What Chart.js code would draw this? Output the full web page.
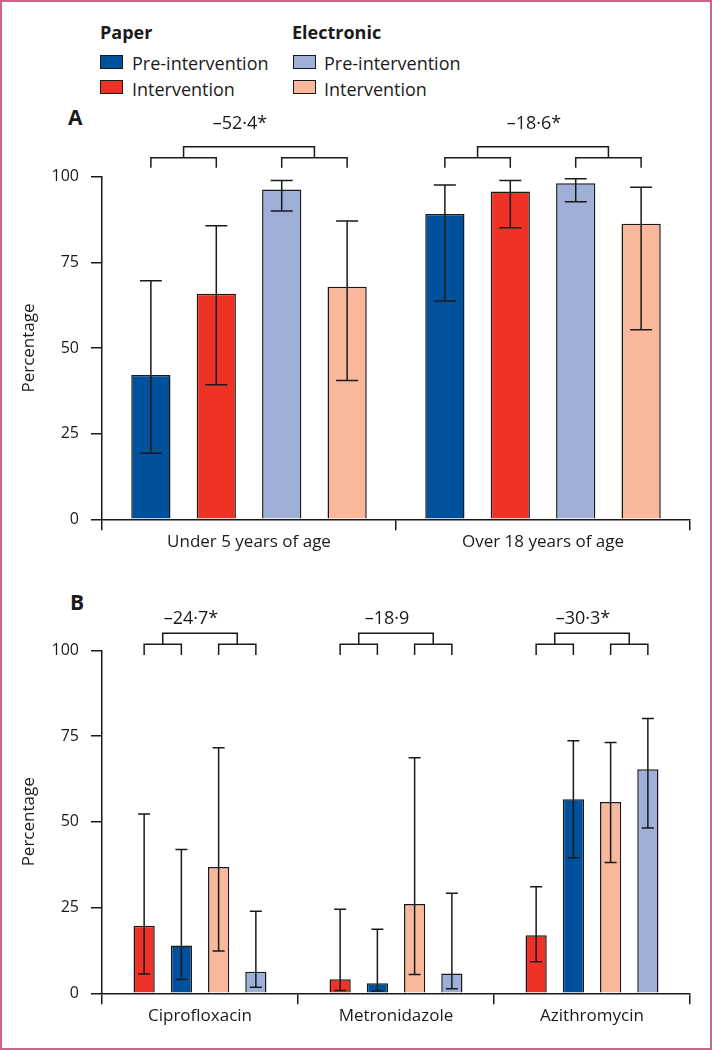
<!DOCTYPE html>
<html>
<head>
<meta charset="utf-8">
<script src="https://cdn.jsdelivr.net/npm/chart.js@4.4.1/dist/chart.umd.min.js"></script>
<style>
  html, body { margin: 0; padding: 0; background: #fff; }
  #frame {
    position: relative; width: 712px; height: 1050px; box-sizing: border-box;
    border: 2px solid #d0628c; overflow: hidden;
    font-family: "Open Sans", sans-serif; color: #1a1a1a;
  }
  canvas { position: absolute; left: -2px; }
  .head { position: absolute; font-weight: bold; font-size: 18px; line-height: 20px; }
  .item { position: absolute; font-size: 18px; line-height: 20px; }
  .sw { position: absolute; width: 21px; height: 12px; border: 1.5px solid #1a1a1a; }
  .panel { position: absolute; font-weight: bold; font-size: 21px; line-height: 24px; }
</style>
</head>
<body>
<div id="frame">
  <div class="head" style="left:98px; top:20px;">Paper</div>
  <div class="head" style="left:290px; top:20px;">Electronic</div>
  <div class="sw" style="left:98px; top:53px; background:#00519c;"></div>
  <div class="item" style="left:130px; top:51px;">Pre-intervention</div>
  <div class="sw" style="left:98px; top:78px; background:#ee3326;"></div>
  <div class="item" style="left:130px; top:77px;">Intervention</div>
  <div class="sw" style="left:291px; top:53px; background:#a0afd7;"></div>
  <div class="item" style="left:322px; top:51px;">Pre-intervention</div>
  <div class="sw" style="left:291px; top:78px; background:#f9b89c;"></div>
  <div class="item" style="left:322px; top:77px;">Intervention</div>
  <div class="panel" style="left:66px; top:103px;">A</div>
  <div class="panel" style="left:68px; top:588px;">B</div>
  <canvas id="chartA" width="712" height="460" style="top:98px;"></canvas>
  <canvas id="chartB" width="712" height="450" style="top:578px;"></canvas>
</div>
<script>
const paperPre = '#00519c';
const paperInt = '#ee3326';
const elecPre = '#a0afd7';
const elecInt = '#f9b89c';

// Panel A
const ageGroups = ['Under 5 years of age', 'Over 18 years of age'];
const aPaperPre = [42.1, 89.1];
const aPaperPreLo = [19.3, 63.7];
const aPaperPreHi = [69.6, 97.6];
const aPaperInt = [65.8, 95.7];
const aPaperIntLo = [39.3, 85.1];
const aPaperIntHi = [85.7, 98.9];
const aElecPre = [96.3, 98.1];
const aElecPreLo = [90.0, 92.7];
const aElecPreHi = [98.9, 99.4];
const aElecInt = [67.9, 86.3];
const aElecIntLo = [40.5, 55.3];
const aElecIntHi = [87.1, 96.9];
const aDiffs = ['–52·4*', '–18·6*'];

// Panel B
const drugs = ['Ciprofloxacin', 'Metronidazole', 'Azithromycin'];
const bPaperInt = [19.7, 4.1, 16.9];
const bPaperIntLo = [5.6, 0.8, 9.2];
const bPaperIntHi = [52.3, 24.5, 31.1];
const bPaperPre = [13.9, 2.9, 56.6];
const bPaperPreLo = [4.0, 0.7, 39.5];
const bPaperPreHi = [41.9, 18.7, 73.6];
const bElecInt = [36.8, 26.0, 55.8];
const bElecIntLo = [12.3, 5.5, 38.1];
const bElecIntHi = [71.6, 68.7, 73.1];
const bElecPre = [6.3, 5.8, 65.3];
const bElecPreLo = [1.8, 1.3, 48.2];
const bElecPreHi = [23.9, 29.2, 80.1];
const bDiffs = ['–24·7*', '–18·9', '–30·3*'];

const yTicks = [0, 25, 50, 75, 100];
const ink = '#1a1a1a';
const fontFamily = '"Open Sans", sans-serif';

const errorBars = {
  id: 'errorBars',
  afterDatasetsDraw(chart, args, opts) {
    const ctx = chart.ctx;
    const y = chart.scales.y;
    ctx.save();
    ctx.strokeStyle = ink;
    ctx.lineWidth = 1.5;
    chart.data.datasets.forEach((ds, i) => {
      chart.getDatasetMeta(i).data.forEach((bar, j) => {
        const top = y.getPixelForValue(ds.hi[j]);
        const bot = y.getPixelForValue(ds.lo[j]);
        const w = opts.cap / 2;
        ctx.beginPath();
        ctx.moveTo(bar.x, top);
        ctx.lineTo(bar.x, bot);
        ctx.moveTo(bar.x - w, top);
        ctx.lineTo(bar.x + w, top);
        ctx.moveTo(bar.x - w, bot);
        ctx.lineTo(bar.x + w, bot);
        ctx.stroke();
      });
    });
    ctx.restore();
  }
};

// comparison brackets above each group, with the difference label
const brackets = {
  id: 'brackets',
  afterDraw(chart, args, opts) {
    const ctx = chart.ctx;
    const t = chart.chartArea.top;
    ctx.save();
    ctx.strokeStyle = ink;
    ctx.fillStyle = ink;
    ctx.lineWidth = 1.5;
    ctx.font = '18px ' + fontFamily;
    ctx.textAlign = 'center';
    ctx.textBaseline = 'middle';
    opts.labels.forEach((txt, j) => {
      const xs = [0, 1, 2, 3].map(i => chart.getDatasetMeta(i).data[j].x);
      const leg = t + opts.leg, mid = t + opts.small, high = t + opts.big;
      const m1 = (xs[0] + xs[1]) / 2, m2 = (xs[2] + xs[3]) / 2;
      ctx.beginPath();
      ctx.moveTo(xs[0], leg); ctx.lineTo(xs[0], mid); ctx.lineTo(xs[1], mid); ctx.lineTo(xs[1], leg);
      ctx.moveTo(xs[2], leg); ctx.lineTo(xs[2], mid); ctx.lineTo(xs[3], mid); ctx.lineTo(xs[3], leg);
      ctx.moveTo(m1, mid); ctx.lineTo(m1, high); ctx.lineTo(m2, high); ctx.lineTo(m2, mid);
      ctx.stroke();
      ctx.fillText(txt, (m1 + m2) / 2 - 9, t + opts.label);
    });
    ctx.restore();
  }
};

function bars(label, data, lo, hi, color) {
  return { label, data, lo, hi, backgroundColor: color, borderColor: ink, borderWidth: 1.5 };
}

function makeOptions(padTop, xHeight, catPct, barPct, cap, br) {
  return {
    responsive: false,
    animation: false,
    devicePixelRatio: 1,
    categoryPercentage: catPct,
    barPercentage: barPct,
    layout: { padding: { top: padTop, right: 22, left: 0, bottom: 0 } },
    plugins: {
      legend: { display: false },
      tooltip: { enabled: false },
      errorBars: { cap },
      brackets: br
    },
    scales: {
      x: {
        afterFit: (s) => { s.height = xHeight; },
        grid: { offset: true, drawOnChartArea: false, tickLength: 11, color: ink, lineWidth: 1.5 },
        border: { color: ink, width: 1.5 },
        ticks: { color: ink, padding: 2, font: { family: fontFamily, size: 17 } }
      },
      y: {
        min: 0,
        max: 100,
        afterFit: (s) => { s.width = 102; },
        afterBuildTicks: (s) => { s.ticks = yTicks.map(v => ({ value: v })); },
        grid: { drawOnChartArea: false, tickLength: 11, color: ink, lineWidth: 1.5 },
        border: { color: ink, width: 1.5 },
        ticks: { color: ink, padding: 12, font: { family: fontFamily, size: 16 } },
        title: { display: true, text: 'Percentage', color: ink, padding: { top: 19 }, font: { family: fontFamily, size: 17 } }
      }
    }
  };
}

new Chart(document.getElementById('chartA'), {
  type: 'bar',
  data: {
    labels: ageGroups,
    datasets: [
      bars('Paper pre-intervention', aPaperPre, aPaperPreLo, aPaperPreHi, paperPre),
      bars('Paper intervention', aPaperInt, aPaperIntLo, aPaperIntHi, paperInt),
      bars('Electronic pre-intervention', aElecPre, aElecPreLo, aElecPreHi, elecPre),
      bars('Electronic intervention', aElecInt, aElecIntLo, aElecIntHi, elecInt)
    ]
  },
  options: makeOptions(76.7, 40.7, 0.89, 0.6, 22, { labels: aDiffs, leg: -9, small: -19, big: -30, label: -52.7 }),
  plugins: [errorBars, brackets]
});

new Chart(document.getElementById('chartB'), {
  type: 'bar',
  data: {
    labels: drugs,
    datasets: [
      bars('Paper intervention', bPaperInt, bPaperIntLo, bPaperIntHi, paperInt),
      bars('Paper pre-intervention', bPaperPre, bPaperPreLo, bPaperPreHi, paperPre),
      bars('Electronic intervention', bElecInt, bElecIntLo, bElecIntHi, elecInt),
      bars('Electronic pre-intervention', bElecPre, bElecPreLo, bElecPreHi, elecPre)
    ]
  },
  options: makeOptions(70.3, 36.7, 0.76, 0.57, 12, { labels: bDiffs, leg: 4.7, small: -6, big: -17, label: -31 }),
  plugins: [errorBars, brackets]
});
</script>
</body>
</html>
